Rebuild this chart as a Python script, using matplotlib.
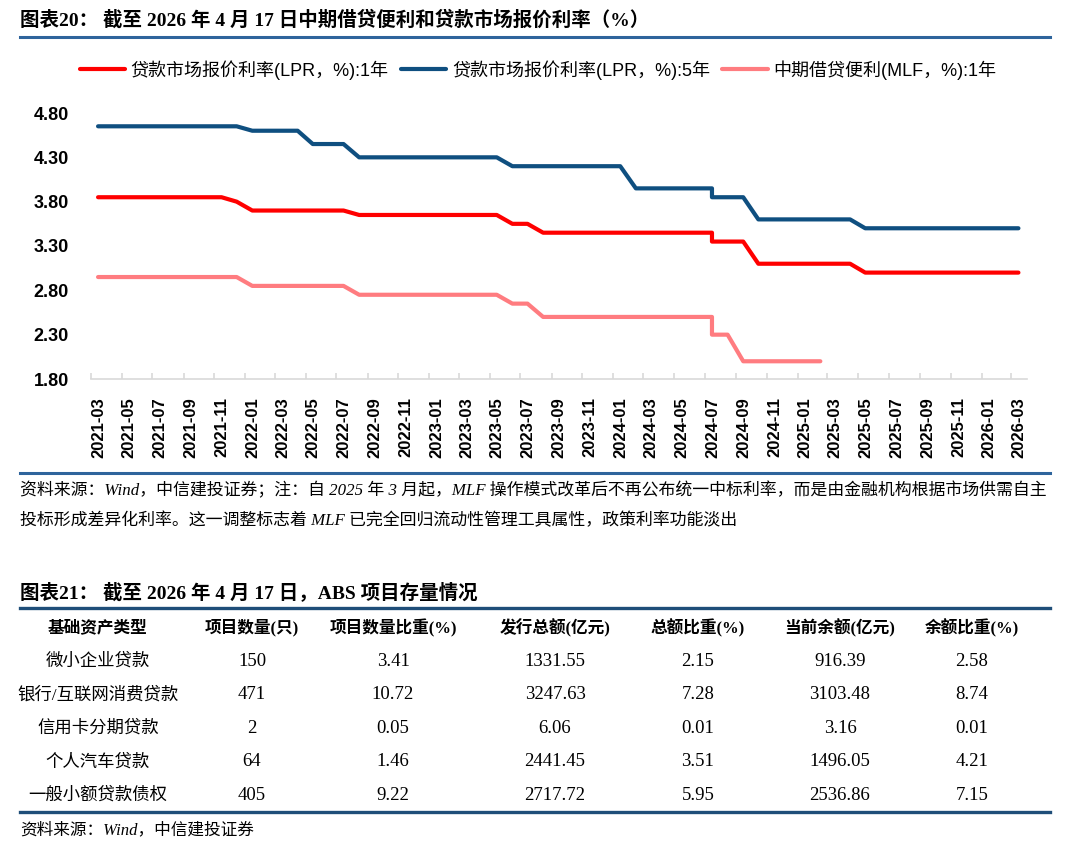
import matplotlib
matplotlib.use("Agg")
import matplotlib.pyplot as plt
import numpy as np
import pandas as pd
from matplotlib.lines import Line2D

# ---- chart data: monthly (mid-month) readings, July 2024 appears twice (before / after the cut)
months = list(pd.date_range("2021-03-01", "2026-03-01", freq="MS") + pd.Timedelta(days=14))
jul24 = months.index(pd.Timestamp("2024-07-15"))
dates = months[:jul24 + 1] + months[jul24:]

nan = np.nan
lpr_1y = [
    3.85, 3.85, 3.85, 3.85, 3.85, 3.85, 3.85, 3.85, 3.85, 3.80,                    # 2021-03..12
    3.70, 3.70, 3.70, 3.70, 3.70, 3.70, 3.70, 3.65, 3.65, 3.65, 3.65, 3.65,        # 2022
    3.65, 3.65, 3.65, 3.65, 3.65, 3.55, 3.55, 3.45, 3.45, 3.45, 3.45, 3.45,        # 2023
    3.45, 3.45, 3.45, 3.45, 3.45, 3.45, 3.45, 3.35, 3.35, 3.35, 3.10, 3.10, 3.10,  # 2024
    3.10, 3.10, 3.10, 3.10, 3.00, 3.00, 3.00, 3.00, 3.00, 3.00, 3.00, 3.00,        # 2025
    3.00, 3.00, 3.00,                                                              # 2026
]
lpr_5y = [
    4.65, 4.65, 4.65, 4.65, 4.65, 4.65, 4.65, 4.65, 4.65, 4.65,
    4.60, 4.60, 4.60, 4.60, 4.45, 4.45, 4.45, 4.30, 4.30, 4.30, 4.30, 4.30,
    4.30, 4.30, 4.30, 4.30, 4.30, 4.20, 4.20, 4.20, 4.20, 4.20, 4.20, 4.20,
    4.20, 3.95, 3.95, 3.95, 3.95, 3.95, 3.95, 3.85, 3.85, 3.85, 3.60, 3.60, 3.60,
    3.60, 3.60, 3.60, 3.60, 3.50, 3.50, 3.50, 3.50, 3.50, 3.50, 3.50, 3.50,
    3.50, 3.50, 3.50,
]
mlf_1y = [
    2.95, 2.95, 2.95, 2.95, 2.95, 2.95, 2.95, 2.95, 2.95, 2.95,
    2.85, 2.85, 2.85, 2.85, 2.85, 2.85, 2.85, 2.75, 2.75, 2.75, 2.75, 2.75,
    2.75, 2.75, 2.75, 2.75, 2.75, 2.65, 2.65, 2.50, 2.50, 2.50, 2.50, 2.50,
    2.50, 2.50, 2.50, 2.50, 2.50, 2.50, 2.50, 2.30, 2.30, 2.00, 2.00, 2.00, 2.00,
    2.00, 2.00, nan, nan, nan, nan, nan, nan, nan, nan, nan, nan,
    nan, nan, nan,
]
series_labels = ["贷款市场报价利率(LPR，%):1年", "贷款市场报价利率(LPR，%):5年", "中期借贷便利(MLF，%):1年"]
y_ticks = [1.80, 2.30, 2.80, 3.30, 3.80, 4.30, 4.80]

# ---- table data
tbl_header = ["基础资产类型", "项目数量(只)", "项目数量比重(%)", "发行总额(亿元)", "总额比重(%)", "当前余额(亿元)", "余额比重(%)"]
asset_types = ["微小企业贷款", "银行/互联网消费贷款", "信用卡分期贷款", "个人汽车贷款", "一般小额贷款债权"]
project_count = ["150", "471", "2", "64", "405"]
count_share = ["3.41", "10.72", "0.05", "1.46", "9.22"]
issue_total = ["1331.55", "3247.63", "6.06", "2441.45", "2717.72"]
total_share = ["2.15", "7.28", "0.01", "3.51", "5.95"]
balance = ["916.39", "3103.48", "3.16", "1496.05", "2536.86"]
balance_share = ["2.58", "8.74", "0.01", "4.21", "7.15"]

title1 = "图表20： 截至 2026 年 4 月 17 日中期借贷便利和贷款市场报价利率（%）"
note1 = "资料来源：Wind，中信建投证券；注：自 2025 年 3 月起，MLF 操作模式改革后不再公布统一中标利率，而是由金融机构根据市场供需自主"
note2 = "投标形成差异化利率。这一调整标志着 MLF 已完全回归流动性管理工具属性，政策利率功能淡出"
title2 = "图表21： 截至 2026 年 4 月 17 日，ABS 项目存量情况"
source2 = "资料来源：Wind，中信建投证券"

W, H = 1080, 860
SANS = ["Liberation Sans", "Noto Sans CJK SC"]
SERIF = ["Liberation Serif", "Noto Sans CJK SC"]


def fx(px):
    return px / W


def fy(py):
    return 1 - py / H


fig = plt.figure(figsize=(W / 100, H / 100), dpi=100)
fig.patch.set_facecolor("white")


def hline(py, color, lw=2.2, x0=20, x1=1050):
    fig.add_artist(Line2D([fx(x0), fx(x1)], [fy(py), fy(py)], color=color, lw=lw,
                          transform=fig.transFigure))


# ---- figure 20
fig.text(fx(20), fy(20), title1, family=SERIF, fontweight="bold", fontsize=14, va="center", ha="left")
hline(37, "#2E649C")

ax = fig.add_axes([fx(91), fy(379), (1027 - 91) / W, (379 - 113) / H])
colors = ["#FF0000", "#0F4F80", "#FF7C80"]
for vals, lbl, c in zip([lpr_1y, lpr_5y, mlf_1y], series_labels, colors):
    ax.plot(dates, vals, color=c, lw=3.0, label=lbl, solid_capstyle="round", solid_joinstyle="round")

ax.set_ylim(1.80, 4.80)
ax.set_xlim(pd.Timestamp("2021-03-01"), pd.Timestamp("2026-04-01"))
ax.set_yticks(y_ticks)
ax.set_yticklabels([f"{v:.2f}" for v in y_ticks], family=SANS, fontweight="bold", fontsize=13)
ax.tick_params(axis="y", length=0, pad=16)

tick_dates = list(pd.date_range("2021-03-01", "2026-03-01", freq="2MS"))
ax.set_xticks(tick_dates)
ax.set_xticklabels([])
ax.tick_params(axis="x", which="major", direction="in", length=4.5, width=1.2, color="#D9D9D9")
ax.set_xticks([d + pd.Timedelta(days=15) for d in tick_dates], minor=True)
ax.set_xticklabels([d.strftime("%Y-%m") for d in tick_dates], minor=True, rotation=90,
                   family=SANS, fontweight="bold", fontsize=12)
ax.tick_params(axis="x", which="minor", length=0, pad=13)

for s in ["top", "left", "right"]:
    ax.spines[s].set_visible(False)
ax.spines["bottom"].set_color("#D9D9D9")
ax.spines["bottom"].set_linewidth(1.2)

fig.legend(*ax.get_legend_handles_labels(), loc="center", bbox_to_anchor=(fx(538), fy(70)),
           ncol=3, frameon=False, handlelength=2.5, handletextpad=0.3, columnspacing=0.7,
           prop={"family": SANS, "size": 13})

hline(473, "#2E649C")
fig.text(fx(20), fy(491), note1, family=SERIF, style="italic", fontsize=12.2, va="center", ha="left")
fig.text(fx(20), fy(521), note2, family=SERIF, style="italic", fontsize=12.2, va="center", ha="left")

# ---- figure 21 (table)
fig.text(fx(20), fy(592), title2, family=SERIF, fontweight="bold", fontsize=14, va="center", ha="left")

tax = fig.add_axes([fx(20), fy(812), (1050 - 20) / W, (812 - 608) / H])
tax.set_xlim(20, 1050)
tax.set_ylim(5.5, -0.6)
tax.set_xticks([])
tax.set_yticks([])
for s in ["left", "right"]:
    tax.spines[s].set_visible(False)
for s in ["top", "bottom"]:
    tax.spines[s].set_color("#1F4E79")
    tax.spines[s].set_linewidth(2.4)

col_x = [98, 252, 393, 555, 698, 840, 972]
for cx, h in zip(col_x, tbl_header):
    tax.text(cx, 0, h, family=SERIF, fontweight="bold", fontsize=12, ha="center", va="center")
columns = [asset_types, project_count, count_share, issue_total, total_share, balance, balance_share]
for ci, (cx, col) in enumerate(zip(col_x, columns)):
    for i, v in enumerate(col):
        tax.text(cx, i + 1, v, family=SERIF, fontsize=12.5 if ci == 0 else 13.5, ha="center", va="center")

fig.text(fx(20), fy(830), source2, family=SERIF, style="italic", fontsize=12, va="center", ha="left")

fig.savefig("out.png", dpi=100)
